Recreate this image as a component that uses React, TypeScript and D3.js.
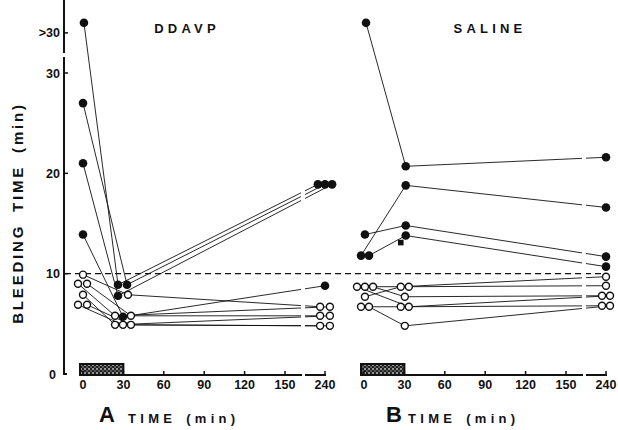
import React from "react";
import * as d3 from "d3";

// ---- data ----
const xTicks = [0, 30, 60, 90, 120, 150, 240];
const yTicks = [0, 10, 20, 30];
const overTick = { value: 34, label: ">30" };
const OVER = 35; // plotted level of the ">30" readings
const referenceLevel = 10;
const infusion = [0, 30];

type Subject = { t: number[]; v: number[] };

// DDAVP – filled symbols (prolonged bleeding time)
const ddavpFilled: Subject[] = [
  { t: [0.7, 26, 224], v: [OVER, 8.9, 18.9] },
  { t: [0, 32.7, 240], v: [27.0, 8.9, 18.9] },
  { t: [0, 26, 256], v: [21.0, 7.8, 18.9] },
  { t: [0, 29.7, 240], v: [13.9, 5.7, 8.8] },
];
// DDAVP – open symbols
const ddavpOpen: Subject[] = [
  { t: [0, 33.4, 229], v: [9.9, 7.9, 6.7] },
  { t: [-3.7, 23.8, 251], v: [9.0, 5.8, 6.7] },
  { t: [3.0, 35.6, 229], v: [9.0, 5.8, 5.8] },
  { t: [0, 23.8, 251], v: [7.9, 4.9, 5.8] },
  { t: [-3.7, 29.7, 229], v: [6.9, 4.9, 4.8] },
  { t: [3.0, 35.6, 251], v: [6.9, 4.9, 4.8] },
];
// SALINE – filled symbols
const salineFilled: Subject[] = [
  { t: [1.5, 31, 240], v: [OVER, 20.7, 21.6] },
  { t: [-2.2, 31, 240], v: [11.8, 18.8, 16.6] },
  { t: [0.7, 31, 240], v: [13.9, 14.8, 11.7] },
  { t: [3.7, 31, 240], v: [11.8, 13.8, 10.7] },
];
// SALINE – open symbols
const salineOpen: Subject[] = [
  { t: [6.7, 30.3, 231], v: [8.7, 7.7, 7.8] },
  { t: [0.7, 27.3, 240], v: [7.7, 8.7, 9.7] },
  { t: [0.7, 33.3, 240], v: [8.7, 8.7, 8.8] },
  { t: [-5.2, 33.3, 249], v: [8.7, 6.7, 7.8] },
  { t: [-2.2, 27.3, 231], v: [6.7, 6.7, 6.8] },
  { t: [3.7, 30.3, 249], v: [6.7, 4.8, 6.8] },
];
const salineSquares = [{ t: 27.3, v: 13.1 }];

// ---- layout ----
const W = 618;
const H = 430;
const FONT = "'Liberation Sans', Arial, Helvetica, sans-serif";

const y = d3.scaleLinear().domain([0, 30]).range([374, 73]);
const xA = d3.scaleLinear().domain([0, 150, 240]).range([83, 285, 325]);
const xB = d3.scaleLinear().domain([0, 150, 240]).range([364, 566, 606]);

type Panel = {
  title: string;
  titleX: number;
  letter: string;
  letterX: number;
  labelX: number;
  x: d3.ScaleLinear<number, number>;
  filled: Subject[];
  open: Subject[];
  squares: { t: number; v: number }[];
};

const panels: Panel[] = [
  { title: "DDAVP", titleX: 187, letter: "A", letterX: 99, labelX: 128, x: xA, filled: ddavpFilled, open: ddavpOpen, squares: [] },
  { title: "SALINE", titleX: 490, letter: "B", letterX: 386, labelX: 408, x: xB, filled: salineFilled, open: salineOpen, squares: salineSquares },
];

const INK = "#111";

function PanelView({ p }: { p: Panel }) {
  const x = p.x;
  const line = d3
    .line<[number, number]>()
    .x((d) => x(d[0]))
    .y((d) => y(d[1]));
  const pts = (s: Subject) => s.t.map((t, i) => [t, s.v[i]] as [number, number]);
  const gap0 = x(150) + 16;
  const gap1 = x(150) + 20;
  const axisY = y(0) + 1;
  return (
    <g>
      {/* subject lines */}
      {[...p.open, ...p.filled].map((s, i) => (
        <path key={"l" + i} d={line(pts(s)) || ""} fill="none" stroke={INK} strokeWidth={0.9} />
      ))}
      {/* axis break gap through the lines */}
      <rect x={gap0} y={60} width={gap1 - gap0} height={axisY - 62} fill="#fff" />
      {/* infusion bar */}
      <rect
        x={x(infusion[0]) - 3}
        y={axisY - 11}
        width={x(infusion[1]) - x(infusion[0]) + 3}
        height={11}
        fill="url(#stipple)"
        stroke={INK}
        strokeWidth={2}
      />
      {/* x axis */}
      <line x1={x(infusion[0]) - 3} x2={gap0 + 1} y1={axisY} y2={axisY} stroke={INK} strokeWidth={2} />
      <line x1={gap1} x2={x(240) + 1} y1={axisY} y2={axisY} stroke={INK} strokeWidth={2} />
      {xTicks.map((t) => (
        <g key={"xt" + t}>
          <line x1={x(t)} x2={x(t)} y1={axisY} y2={axisY - 4} stroke={INK} strokeWidth={1.5} />
          <text x={x(t)} y={389} textAnchor="middle" fontSize={12.5} fontWeight="bold" fill={INK}>
            {t}
          </text>
        </g>
      ))}
      {/* open symbols */}
      {p.open.map((s, i) =>
        pts(s).map((d, j) => (
          <circle key={"o" + i + "-" + j} cx={x(d[0])} cy={y(d[1])} r={3.5} fill="#fff" stroke={INK} strokeWidth={1.4} />
        ))
      )}
      {/* filled symbols */}
      {p.filled.map((s, i) =>
        pts(s).map((d, j) => (
          <circle key={"f" + i + "-" + j} cx={x(d[0])} cy={y(d[1])} r={4.3} fill={INK} />
        ))
      )}
      {p.squares.map((d, i) => (
        <rect key={"s" + i} x={x(d.t) - 2.8} y={y(d.v) - 2.8} width={5.6} height={5.6} fill={INK} />
      ))}
      {/* titles */}
      <text x={p.titleX} y={33} textAnchor="middle" fontSize={13} fontWeight="bold" letterSpacing={4.2} fill={INK}>
        {p.title}
      </text>
      <text x={p.letterX} y={422} fontSize={22} fontWeight="bold" fill={INK}>
        {p.letter}
      </text>
      <text x={p.labelX} y={423} fontSize={13} fontWeight="bold" letterSpacing={4.3} wordSpacing={2} fill={INK}>
        TIME (min)
      </text>
    </g>
  );
}

export default function App() {
  const axisX = 64;
  const brk0 = y(32.0);
  const brk1 = y(31.6);
  return (
    <svg
      width={W}
      height={H}
      viewBox={`0 0 ${W} ${H}`}
      style={{ position: "absolute", left: 0, top: 0, background: "#fff", fontFamily: FONT }}
    >
      <defs>
        <pattern id="stipple" width={4} height={4} patternUnits="userSpaceOnUse">
          <rect width={4} height={4} fill="#222" />
          <circle cx={1} cy={1} r={0.9} fill="#ccc" />
          <circle cx={3} cy={3} r={0.8} fill="#999" />
        </pattern>
      </defs>
      <rect width={W} height={H} fill="#fff" />

      {/* reference line at 10 min */}
      <line
        x1={axisX + 1}
        x2={603}
        y1={y(referenceLevel)}
        y2={y(referenceLevel)}
        stroke={INK}
        strokeWidth={1.2}
        strokeDasharray="6 4"
      />

      {panels.map((p) => (
        <PanelView key={p.title} p={p} />
      ))}

      {/* y axis with break */}
      <line x1={axisX} x2={axisX} y1={y(37.5)} y2={brk0} stroke={INK} strokeWidth={2} />
      <path d={`M${axisX},${brk1}V${y(0)}H${axisX + 3}`} fill="none" stroke={INK} strokeWidth={2} />
      {yTicks.map((v) => (
        <g key={"yt" + v}>
          {v > 0 && <line x1={axisX} x2={axisX + 4} y1={y(v)} y2={y(v)} stroke={INK} strokeWidth={1.5} />}
          <text
            x={v === 0 ? 56 : 60}
            y={y(v) + 4.5}
            textAnchor="end"
            fontSize={12.5}
            fontWeight="bold"
            fill={INK}
          >
            {v}
          </text>
        </g>
      ))}
      <line x1={axisX} x2={axisX + 4} y1={y(overTick.value)} y2={y(overTick.value)} stroke={INK} strokeWidth={1.5} />
      <text x={60} y={y(overTick.value) + 4.5} textAnchor="end" fontSize={12.5} fontWeight="bold" fill={INK}>
        {overTick.label}
      </text>

      {/* y axis title */}
      <text
        transform={`translate(23,${213}) rotate(-90)`}
        textAnchor="middle"
        fontSize={15}
        fontWeight="bold"
        letterSpacing={2.8}
        wordSpacing={5}
        fill={INK}
      >
        BLEEDING TIME (min)
      </text>
    </svg>
  );
}
